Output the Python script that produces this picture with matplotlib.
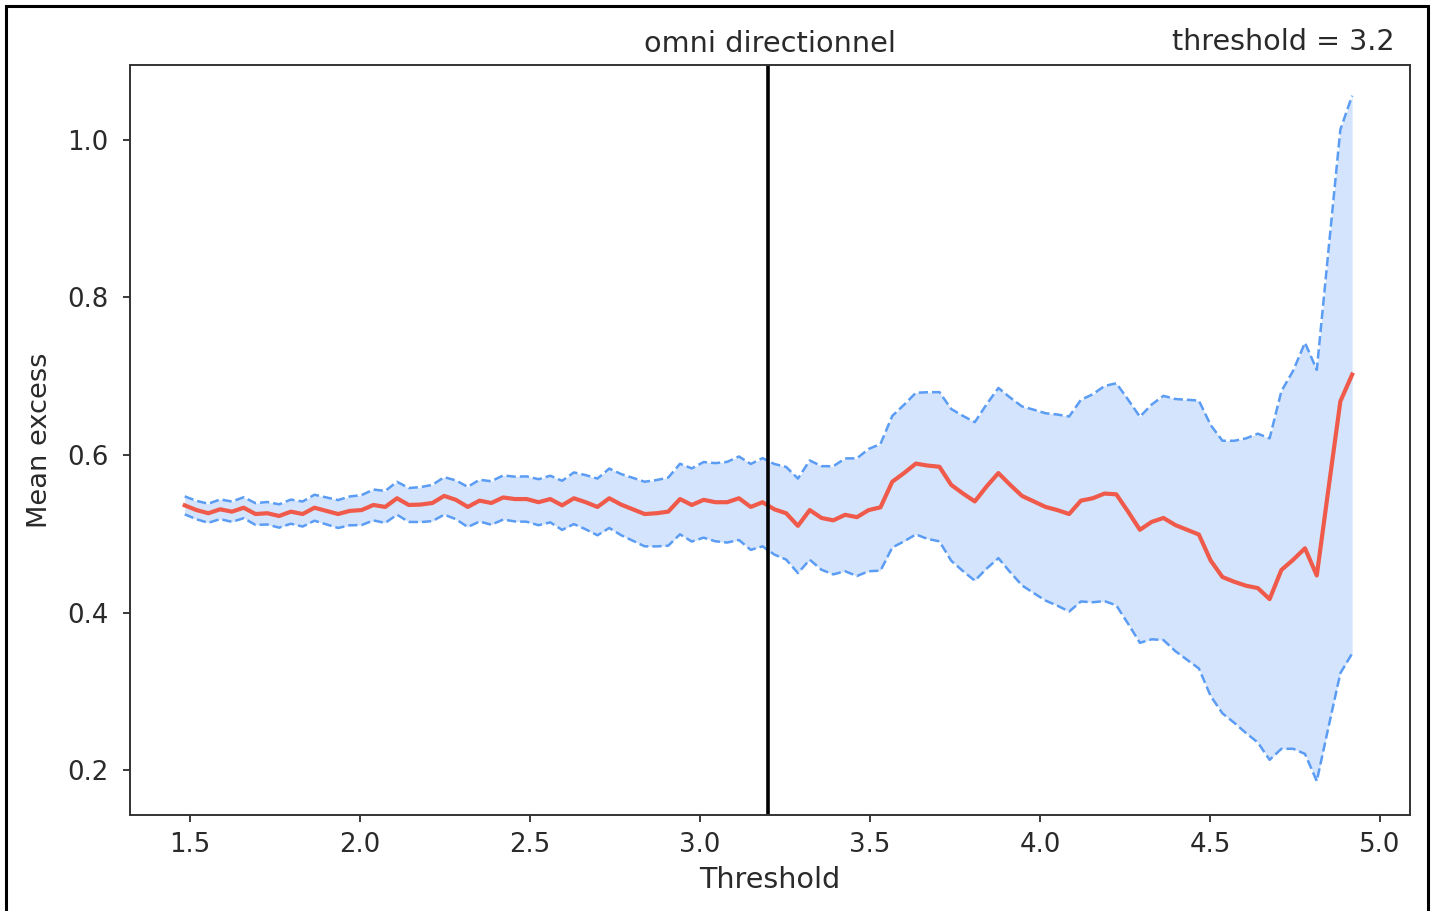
import numpy as np
import matplotlib.pyplot as plt
from matplotlib.patches import Rectangle

#--------------------------------------------------------------------------------------------

threshold = 3.2
thresholds = np.linspace(1.485, 4.918, 100)

mean_excess = [
    0.536, 0.530, 0.526, 0.531, 0.528, 0.533, 0.525, 0.526, 0.5225, 0.528,
    0.525, 0.533, 0.529, 0.525, 0.529, 0.530, 0.5365, 0.534, 0.545, 0.5365,
    0.537, 0.539, 0.548, 0.543, 0.534, 0.542, 0.539, 0.546, 0.544, 0.544,
    0.540, 0.544, 0.536, 0.545, 0.540, 0.534, 0.545, 0.537, 0.531, 0.525,
    0.526, 0.528, 0.544, 0.5365, 0.543, 0.540, 0.540, 0.545, 0.534, 0.540,
    0.531, 0.526, 0.510, 0.530, 0.520, 0.517, 0.524, 0.521, 0.530, 0.5335,
    0.566, 0.577, 0.589, 0.5865, 0.585, 0.562, 0.551, 0.541, 0.560, 0.577,
    0.562, 0.548, 0.541, 0.534, 0.530, 0.525, 0.542, 0.545, 0.551, 0.550,
    0.528, 0.505, 0.515, 0.520, 0.511, 0.505, 0.499, 0.466, 0.445, 0.439,
    0.434, 0.431, 0.417, 0.454, 0.467, 0.4815, 0.447, 0.558, 0.668, 0.702,
]

# half width of the confidence band
half_width = [
    0.0114, 0.0117, 0.0121, 0.0125, 0.0129, 0.0133, 0.0138, 0.0143, 0.0148, 0.0153,
    0.0159, 0.0165, 0.0171, 0.0177, 0.0183, 0.0190, 0.0196, 0.0203, 0.0209, 0.0215,
    0.0222, 0.0230, 0.0238, 0.0246, 0.0255, 0.0265, 0.0276, 0.0280, 0.0284, 0.0288,
    0.0292, 0.0296, 0.0312, 0.0328, 0.0344, 0.0360, 0.0377, 0.0388, 0.0399, 0.0410,
    0.0421, 0.0432, 0.0448, 0.0464, 0.0480, 0.0496, 0.0512, 0.0530, 0.0545, 0.0560,
    0.0575, 0.0588, 0.0600, 0.0630, 0.0658, 0.0686, 0.0716, 0.0747, 0.0776, 0.0804,
    0.0835, 0.0867, 0.0899, 0.0931, 0.0947, 0.0963, 0.0985, 0.1006, 0.1043, 0.1080,
    0.1108, 0.1136, 0.1164, 0.1189, 0.1213, 0.1238, 0.1280, 0.1320, 0.1365, 0.1410,
    0.1422, 0.1435, 0.1490, 0.1550, 0.1600, 0.1650, 0.1700, 0.1720, 0.1730, 0.1790,
    0.1870, 0.1960, 0.2040, 0.2270, 0.2400, 0.2610, 0.2610, 0.3030, 0.3450, 0.3540,
]

#--------------------------------------------------------------------------------------------

mean_excess = np.array(mean_excess)
half_width = np.array(half_width)
upper = mean_excess + half_width
lower = mean_excess - half_width

plt.rcParams['font.size'] = 18.7
plt.rcParams['text.color'] = '#2a2a2a'
plt.rcParams['axes.labelcolor'] = '#2a2a2a'
plt.rcParams['xtick.color'] = '#2a2a2a'
plt.rcParams['ytick.color'] = '#2a2a2a'

fig = plt.figure(figsize=(14.38, 9.11), dpi=100)
ax = fig.add_axes([0.0904, 0.1054, 0.8901, 0.8233])

ax.fill_between(thresholds, lower, upper, color='#d3e4fc', lw=0)
ax.plot(thresholds, upper, ls='--', color='#5b9cf4', lw=1.8)
ax.plot(thresholds, lower, ls='--', color='#5b9cf4', lw=1.8)
ax.plot(thresholds, mean_excess, color='#f05a4a', lw=3.0)
ax.axvline(threshold, color='black', lw=2.6)

ax.set_xlim(1.324, 5.088)
ax.set_ylim(0.143, 1.095)
ax.set_xticks([1.5, 2.0, 2.5, 3.0, 3.5, 4.0, 4.5, 5.0])
ax.set_yticks([0.2, 0.4, 0.6, 0.8, 1.0])
ax.tick_params(length=5, width=1.3)
ax.tick_params(axis='x', pad=7.5)
ax.tick_params(axis='y', pad=10.5)
for s in ax.spines.values():
    s.set_linewidth(1.4)
    s.set_color('#333333')

ax.set_xlabel('Threshold', fontsize=20.6, labelpad=5.5)
ax.set_ylabel('Mean excess', fontsize=19.6, labelpad=10.5)
ax.set_title('omni directionnel', fontsize=20.7, pad=9.5)
ax.text(0.988, 1.0, f'threshold = {threshold}', transform=ax.transAxes,
        ha='right', va='bottom', fontsize=20.6).set_y(1.0125)

# border around the whole figure
fig.patches.append(Rectangle((0.0042, -0.02), 0.9888, 1.0134, transform=fig.transFigure,
                             fill=False, edgecolor='black', lw=2.2))

fig.savefig('out.png', dpi=100)
